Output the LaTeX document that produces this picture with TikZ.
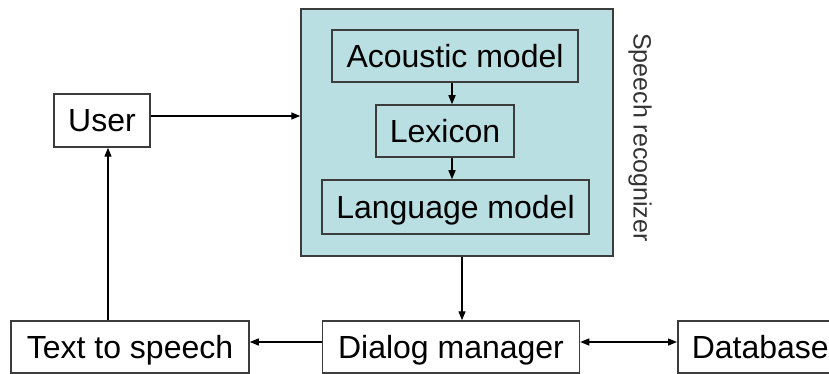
\documentclass[tikz,border=0pt]{standalone}
\usepackage{fontspec}
\setmainfont{Liberation Sans}
\usetikzlibrary{arrows.meta}
\definecolor{recfill}{RGB}{185,223,227}
\definecolor{edge}{RGB}{60,60,60}
\tikzset{
  box/.style={draw=edge, line width=1.5pt, rectangle, inner sep=0pt, align=center,
              text height=23pt, text depth=0pt,
              font=\fontsize{32}{38}\selectfont},
  arr/.style={line width=1.4pt, -{Triangle[length=9pt,width=7pt]}},
  darr/.style={line width=1.4pt, {Triangle[length=9pt,width=7pt]}-{Triangle[length=9pt,width=7pt]}},
}
\begin{document}
\begin{tikzpicture}[x=1pt,y=-1pt]
\useasboundingbox (0,0) rectangle (829,374);
% speech recognizer block and its three stages
\node[box, fill=recfill, minimum width=312pt, minimum height=247pt] (big) at (457,132.5) {};
\node[box, minimum width=246pt, minimum height=52pt] (acoustic) at (455,56) {Acoustic model};
\node[box, minimum width=138pt, minimum height=52pt] (lexicon) at (445,131) {Lexicon};
\node[box, minimum width=267pt, minimum height=54pt] (language) at (455.5,207) {Language model};
\node[rotate=-90, text=black!80, font=\fontsize{25}{30}\selectfont] (reclabel) at (640,137.5) {Speech recognizer};
% other components
\node[box, minimum width=96pt, minimum height=53pt] (user) at (102,120.5) {User};
\node[box, minimum width=238pt, minimum height=52pt] (tts) at (130,347) {Text to speech};
\node[box, minimum width=257pt, minimum height=52pt] (dm) at (451,347) {Dialog manager};
\node[box, anchor=west, inner xsep=14pt, minimum height=52pt] (db) at (677,347) {Database};
% routing columns and rows for connectors
\coordinate (spine) at (452,0);
\coordinate (downx) at (462,0);
\coordinate (upx) at (108,0);
\coordinate (usery) at (0,116);
\coordinate (bottomy) at (0,342);
% connectors
\draw[arr] (acoustic.south -| spine) -- (lexicon.north -| spine);
\draw[arr] (lexicon.south -| spine) -- (language.north -| spine);
\draw[arr] (user.east |- usery) -- (big.west |- usery);
\draw[arr] (big.south -| downx) -- (dm.north -| downx);
\draw[arr] (dm.west |- bottomy) -- (tts.east |- bottomy);
\draw[darr] (dm.east |- bottomy) -- (db.west |- bottomy);
\draw[arr] (tts.north -| upx) -- (user.south -| upx);
\end{tikzpicture}
\end{document}
